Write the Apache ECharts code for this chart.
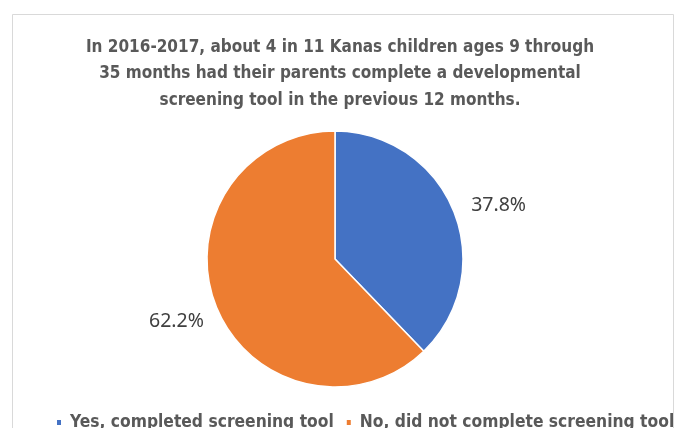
<!DOCTYPE html>
<html lang="en" style="height: 100%">
<head>
  <meta charset="utf-8">
</head>
<body style="height: 100%; margin: 0">
  <div id="container" style="width: 680px; height: 428px"></div>
  <script type="text/javascript" src="https://fastly.jsdelivr.net/npm/echarts@6/dist/echarts.min.js"></script>
  <script type="text/javascript">
	var titleText = 'In 2016-2017, about 4 in 11 Kanas children ages 9 through\n35 months had their parents complete a developmental\nscreening tool in the previous 12 months.';
	var categories = ['Yes, completed screening tool', 'No, did not complete screening tool'];
	var values = [37.8, 62.2];
	var colors = ['#4472c4', '#ed7d31'];

	var narrow = "'Liberation Sans Narrow', 'DejaVu Sans Condensed', 'Noto Sans', sans-serif";

	var myChart = echarts.init(document.getElementById('container'), null, { renderer: 'canvas' });

	var option = {
	  animation: false,
	  backgroundColor: '#ffffff',
	  graphic: [{
	    type: 'rect',
	    shape: { x: 12.5, y: 14.5, width: 661, height: 440 },
	    style: { fill: 'none', stroke: '#d9d9d9', lineWidth: 1 },
	    silent: true
	  }],
	  title: {
	    text: titleText,
	    left: 'center',
	    top: 29,
	    textStyle: {
	      fontFamily: narrow,
	      fontWeight: 'bold',
	      fontSize: 17,
	      lineHeight: 26.5,
	      color: '#595959'
	    }
	  },
	  legend: {
	    bottom: -8,
	    left: 50,
	    icon: 'rect',
	    itemWidth: 6,
	    itemHeight: 7,
	    itemGap: 11,
	    data: categories,
	    textStyle: {
	      fontFamily: narrow,
	      fontWeight: 'bold',
	      fontSize: 17.3,
	      color: '#595959',
	      padding: [0, 0, 0, 3]
	    }
	  },
	  series: [{
	    type: 'pie',
	    center: [335, 259],
	    radius: 128,
	    startAngle: 90,
	    clockwise: true,
	    avoidLabelOverlap: false,
	    itemStyle: { borderColor: '#ffffff', borderWidth: 1.5 },
	    label: {
	      position: 'outside',
	      formatter: function (p) { return p.value.toFixed(1) + '%'; },
	      fontFamily: "'Noto Sans', sans-serif",
	      fontSize: 19.5,
	      color: '#404040'
	    },
	    labelLine: { show: false, length: 8, length2: 0 },
	    labelLayout: function (p) {
	      return p.dataIndex === 1 ? { dy: 12 } : { dx: 5, dy: -3 };
	    },
	    data: categories.map(function (c, i) {
	      return { name: c, value: values[i], itemStyle: { color: colors[i] } };
	    })
	  }]
	};

	myChart.setOption(option);
	window.addEventListener('resize', myChart.resize);
  </script>
</body>
</html>
